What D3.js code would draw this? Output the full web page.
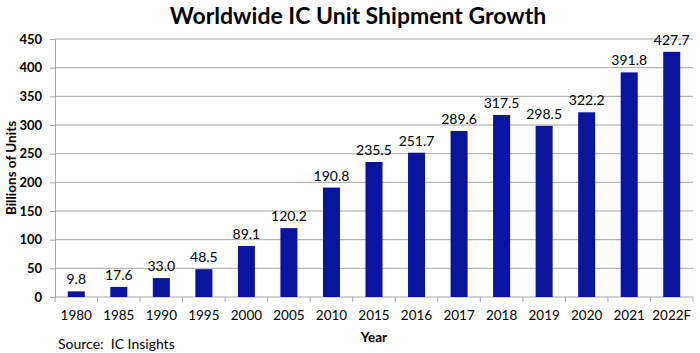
<!DOCTYPE html>
<html>
<head>
<meta charset="utf-8">
<script src="https://cdn.jsdelivr.net/npm/d3@7"></script>
<style>
  body { margin: 0; background: #fff; }
  svg text { font-family: Lato, "Open Sans", sans-serif; }
</style>
</head>
<body>
<div id="body"></div>
<script>
// values
var years = ["1980","1985","1990","1995","2000","2005","2010","2015","2016","2017","2018","2019","2020","2021","2022F"];
var units = [9.8, 17.6, 33.0, 48.5, 89.1, 120.2, 190.8, 235.5, 251.7, 289.6, 317.5, 298.5, 322.2, 391.8, 427.7];
var yTicks = [0, 50, 100, 150, 200, 250, 300, 350, 400, 450];

var W = 700, H = 353;
var margin = {top: 39, right: 7, bottom: 56, left: 55},
    width = W - margin.left - margin.right,
    height = H - margin.top - margin.bottom;

let svg = d3.select("#body").append("svg")
    .attr("width", W)
    .attr("height", H);

svg.append("text")
    .attr("x", 358).attr("y", 24)
    .attr("text-anchor", "middle")
    .style("font-size", "23px").style("font-weight", "bold")
    .text("Worldwide IC Unit Shipment Growth");

let g = svg.append("g")
    .attr("transform", "translate(" + margin.left + "," + margin.top + ")");

let yScale = d3.scaleLinear().domain([0, 450]).range([height, 0]);
let xScale = d3.scaleBand().domain(years).range([0, width]).paddingInner(0.6).paddingOuter(0.3);

// gridlines
g.selectAll(".grid").data(yTicks.slice(1)).enter()
    .append("line")
    .attr("x1", 0).attr("x2", width)
    .attr("y1", d => yScale(d)).attr("y2", d => yScale(d))
    .attr("stroke", "#a6a6a6").attr("stroke-width", 1);

// y axis
let yAxis = d3.axisLeft(yScale).tickValues(yTicks).tickSize(5).tickPadding(8);
let ya = g.append("g").call(yAxis);
ya.select(".domain").attr("stroke", "#a6a6a6");
ya.selectAll(".tick line").attr("stroke", "#a6a6a6");
ya.selectAll("text").style("font-size", "13px").style("font-weight", "bold").attr("fill", "#000");

// x axis with ticks at band edges
let edge = d3.scaleLinear().domain([0, years.length]).range([0, width]);
let xa = g.append("g").attr("transform", "translate(0," + height + ")");
xa.append("line").attr("x1", 0).attr("x2", width).attr("stroke", "#a6a6a6");
xa.selectAll(".edge").data(d3.range(years.length + 1)).enter()
    .append("line")
    .attr("x1", d => edge(d)).attr("x2", d => edge(d))
    .attr("y1", 0).attr("y2", 5)
    .attr("stroke", "#a6a6a6");
xa.selectAll(".lab").data(years).enter()
    .append("text")
    .attr("x", d => xScale(d) + xScale.bandwidth() / 2)
    .attr("y", 23)
    .attr("text-anchor", "middle")
    .style("font-size", "13.5px")
    .text(d => d);

// bars
let data = years.map((y, i) => ({year: y, v: units[i]}));
g.selectAll("rect").data(data).enter()
    .append("rect")
    .attr("x", d => xScale(d.year))
    .attr("width", xScale.bandwidth())
    .attr("y", d => yScale(d.v))
    .attr("height", d => height - yScale(d.v))
    .attr("fill", "#0a149c");

g.selectAll(".val").data(data).enter()
    .append("text")
    .attr("x", d => xScale(d.year) + xScale.bandwidth() / 2)
    .attr("y", d => yScale(d.v) - 7)
    .attr("text-anchor", "middle")
    .style("font-size", "14px")
    .text(d => d.v.toFixed(1));

// axis titles
svg.append("text")
    .attr("x", margin.left + width / 2).attr("y", 342)
    .attr("text-anchor", "middle")
    .style("font-size", "13.5px").style("font-weight", "bold")
    .text("Year");

svg.append("text")
    .attr("transform", "translate(16," + (margin.top + height / 2) + ") rotate(-90)")
    .attr("text-anchor", "middle")
    .style("font-size", "13.5px").style("font-weight", "bold")
    .text("Billions of Units");

svg.append("text")
    .attr("x", 58).attr("y", 349)
    .style("font-size", "14px")
    .style("white-space", "pre")
    .text("Source:  IC Insights");
</script>
</body>
</html>
